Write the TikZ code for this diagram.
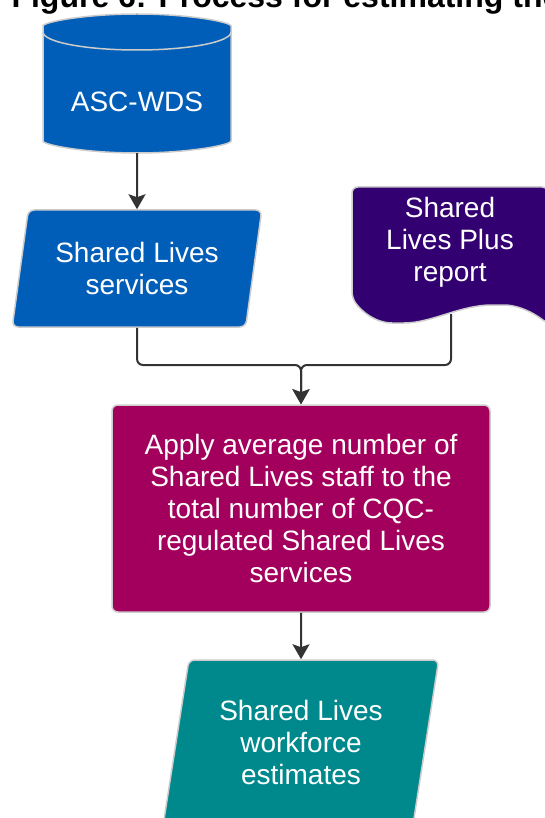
\documentclass[tikz,border=0pt]{standalone}
\usepackage{fontspec}
\setmainfont{Liberation Sans}
\usetikzlibrary{arrows.meta,shapes.geometric,backgrounds}
\definecolor{wdsblue}{RGB}{0,94,184}
\definecolor{slpurple}{RGB}{51,0,114}
\definecolor{calcpink}{RGB}{163,0,93}
\definecolor{outteal}{RGB}{0,137,140}
\definecolor{linegrey}{RGB}{51,51,51}

\begin{document}
\begin{tikzpicture}[x=1pt,y=-1pt,>={Stealth[length=15pt,width=17pt,inset=3pt]}]
		\tikzstyle{every node}=[text=white,font=\fontsize{28}{32}\selectfont,align=center]
		\tikzstyle{flow}=[draw=black!20,line width=1.5pt,rounded corners=6pt]
		\tikzstyle{io}=[flow,trapezium,trapezium left angle=78,trapezium right angle=102,trapezium stretches=true]
		\tikzstyle{conn}=[->,draw=linegrey,line width=2pt,rounded corners=6pt]

		\useasboundingbox (0,0) rectangle (545,818);
		\clip (0,0) rectangle (545,818);

		\node[anchor=base west,text=black,font=\fontsize{32}{36}\selectfont\bfseries] (title) at (8,8) {Figure 6: Process for estimating the};

		\node[minimum width=188pt,minimum height=103pt]            (wds)  at (137,101.5) {ASC-WDS};
		\node[io,fill=wdsblue,minimum width=250pt,minimum height=117pt] (serv) at (137,268.5) {Shared Lives\\services};
		\node[minimum width=196pt,minimum height=111pt]            (plus) at (450,242.5) {Shared\\Lives Plus\\report};
		\node[flow,fill=calcpink,minimum width=378pt,minimum height=207pt] (calc) at (301,508.5)
			{Apply average number of\\Shared Lives staff to the\\total number of CQC-\\regulated Shared Lives\\services};
		\node[io,fill=outteal,minimum width=276pt,minimum height=164pt] (est) at (301,742) {Shared Lives\\workforce\\estimates};

		\coordinate (plusfoot) at (451,314);
		\coordinate (fork) at (301,365);

		\begin{scope}[on background layer]
			\path[flow,fill=wdsblue] (43,32) -- (43,135) arc[start angle=180,end angle=360,x radius=94pt,y radius=18pt]
				-- (231,32) arc[start angle=0,end angle=180,x radius=94pt,y radius=18pt] -- cycle;
			\draw[draw=black!20,line width=1.5pt] (43,32) arc[start angle=180,end angle=360,x radius=94pt,y radius=18pt];
			\path[flow,fill=slpurple] (352,298) -- (352,187) -- (548,187) -- (548,324)
				.. controls (530,310) and (515,305) .. (498,305)
				.. controls (460,305) and (432,323) .. (398,323)
				.. controls (376,323) and (362,312) .. cycle;
		\end{scope}

		\draw[conn] (wds.south) -- (serv.north);
		\draw[conn] (serv.south) |- (fork) -- (calc.north);
		\draw[conn] (plusfoot) |- (fork) -- (calc.north);
		\draw[conn] (calc.south) -- (est.north);
\end{tikzpicture}
\end{document}
